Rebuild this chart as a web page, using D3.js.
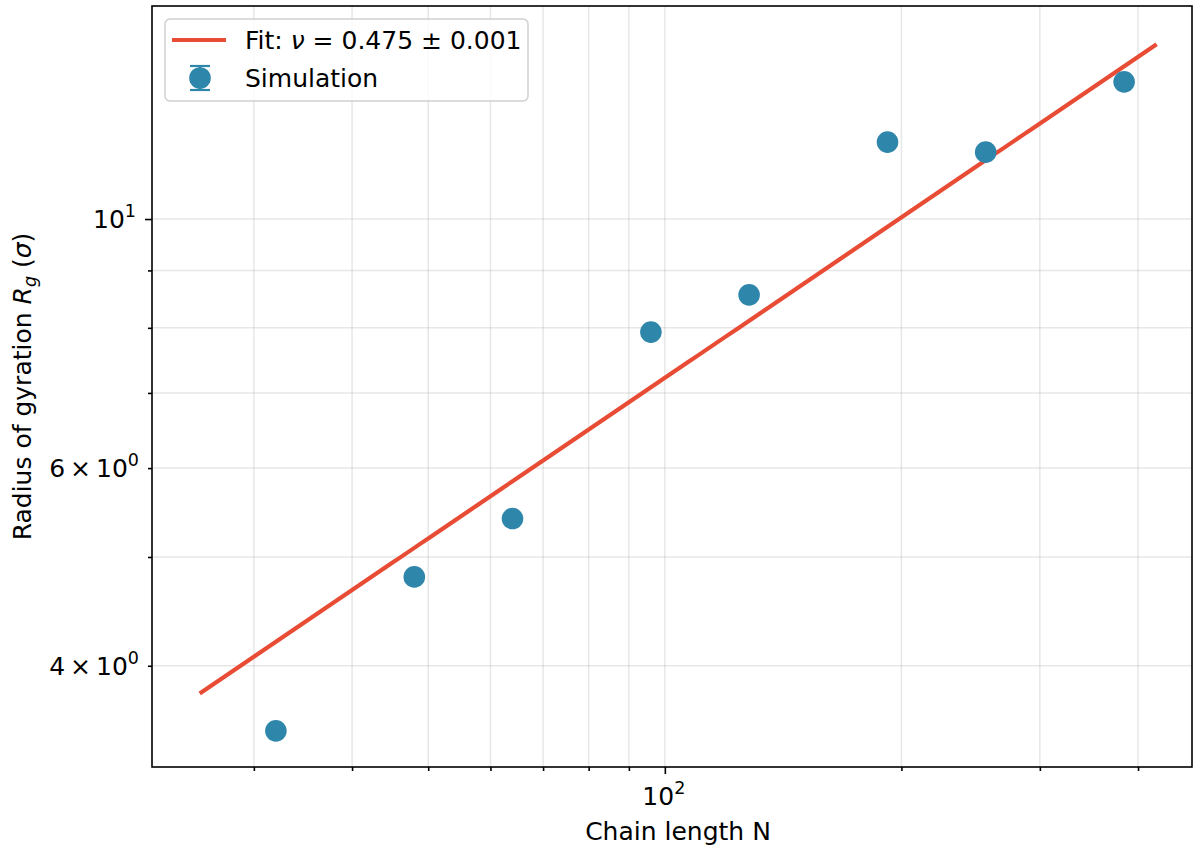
<!DOCTYPE html>
<html>
<head>
<meta charset="utf-8">
<script src="https://cdn.jsdelivr.net/npm/d3@7"></script>
<style>
  body { margin: 0; background: #fff; }
  text { font-family: "DejaVu Sans", sans-serif; fill: #000; }
</style>
</head>
<body>
<div id="chart"></div>
<script>
// data
var chainN = [32, 48, 64, 96, 128, 192, 256, 384];
var rg = [3.50, 4.80, 5.41, 7.93, 8.56, 11.71, 11.47, 13.25];
var nu = 0.475;
var prefactor = 0.81;
var dataLabel = "Simulation";
var xMinor = [30, 40, 50, 60, 70, 80, 90, 200, 300, 400];
var yMinor = [4, 5, 6, 7, 8, 9];
var yMinorLabeled = [4, 6];

var svgWidth = 1193;
var svgHeight = 845;
var margin = { top: 6, right: 1, bottom: 78, left: 152 };
var width = svgWidth - margin.left - margin.right;
var height = svgHeight - margin.top - margin.bottom;

var blue = "#2e86ab";
var red = "#e84c35";
var fs = 25;

var svg = d3.select("#chart").append("svg")
  .attr("width", svgWidth)
  .attr("height", svgHeight);

var chartGroup = svg.append("g")
  .attr("transform", `translate(${margin.left}, ${margin.top})`);

var x = d3.scaleLog().domain([22.26, 468.5]).range([0, width]);
var y = d3.scaleLog().domain([3.25, 15.48]).range([height, 0]);

// grid
var grid = chartGroup.append("g");
[100].concat(xMinor).forEach(function(v) {
  grid.append("line")
    .attr("x1", x(v)).attr("x2", x(v))
    .attr("y1", 0).attr("y2", height)
    .attr("stroke", "#b0b0b0").attr("stroke-opacity", 0.3).attr("stroke-width", 1.5);
});
[10].concat(yMinor).forEach(function(v) {
  grid.append("line")
    .attr("x1", 0).attr("x2", width)
    .attr("y1", y(v)).attr("y2", y(v))
    .attr("stroke", "#b0b0b0").attr("stroke-opacity", 0.3).attr("stroke-width", 1.5);
});

// axes
var xMajorAxis = d3.axisBottom(x).tickValues([100]).tickSize(7).tickFormat("");
var xMinorAxis = d3.axisBottom(x).tickValues(xMinor).tickSize(4).tickFormat("");
var yMajorAxis = d3.axisLeft(y).tickValues([10]).tickSize(7).tickFormat("");
var yMinorAxis = d3.axisLeft(y).tickValues(yMinor).tickSize(4).tickFormat("");

[xMajorAxis, xMinorAxis].forEach(function(ax) {
  chartGroup.append("g").attr("transform", `translate(0, ${height})`).call(ax)
    .call(g => g.select(".domain").remove())
    .selectAll("line").attr("stroke", "#000").attr("stroke-width", 1.6);
});
[yMajorAxis, yMinorAxis].forEach(function(ax) {
  chartGroup.append("g").call(ax)
    .call(g => g.select(".domain").remove())
    .selectAll("line").attr("stroke", "#000").attr("stroke-width", 1.6);
});

// tick labels with superscripts
function powLabel(g, mant, exp) {
  if (mant) {
    g.append("tspan").text(mant + "\u2009\u00d7\u200910");
  } else {
    g.append("tspan").text("10");
  }
  g.append("tspan").attr("dy", -11).attr("font-size", 17.5).text(exp);
}

var xl = chartGroup.append("text")
  .attr("x", x(100) - 1).attr("y", height + 38)
  .attr("text-anchor", "middle").attr("font-size", fs);
powLabel(xl, null, "2");

var yl = chartGroup.append("text")
  .attr("x", -16).attr("y", y(10) + 9)
  .attr("text-anchor", "end").attr("font-size", fs);
powLabel(yl, null, "1");

yMinorLabeled.forEach(function(v) {
  var t = chartGroup.append("text")
    .attr("x", -13).attr("y", y(v) + 9)
    .attr("text-anchor", "end").attr("font-size", fs);
  powLabel(t, String(v), "0");
});

// frame
chartGroup.append("rect")
  .attr("width", width).attr("height", height)
  .attr("fill", "none").attr("stroke", "#000").attr("stroke-width", 1.6);

// axis titles
chartGroup.append("text")
  .attr("x", width / 2 + 6).attr("y", height + 73)
  .attr("text-anchor", "middle").attr("font-size", fs)
  .text("Chain length N");

var ylab = svg.append("text")
  .attr("transform", `translate(31, ${margin.top + height / 2}) rotate(-90)`)
  .attr("text-anchor", "middle").attr("font-size", fs);
ylab.append("tspan").text("Radius of gyration ");
ylab.append("tspan").attr("font-style", "italic").text("R");
ylab.append("tspan").attr("font-style", "italic").attr("font-size", 17.5).attr("dy", 5).text("g");
ylab.append("tspan").attr("dy", -5).text(" (");
ylab.append("tspan").attr("font-style", "italic").text("\u03c3");
ylab.append("tspan").text(")");

// fit line
var nLo = d3.min(chainN) * 0.8, nHi = d3.max(chainN) * 1.1;
var fitN = d3.range(0, 101).map(i => nLo * Math.pow(nHi / nLo, i / 100));
var line = d3.line()
  .x(d => x(d))
  .y(d => y(prefactor * Math.pow(d, nu)));
chartGroup.append("path")
  .datum(fitN)
  .attr("d", line)
  .attr("fill", "none")
  .attr("stroke", red)
  .attr("stroke-width", 4.2);

// points
chartGroup.selectAll(".pt")
  .data(chainN)
  .enter()
  .append("circle")
  .attr("class", "pt")
  .attr("cx", d => x(d))
  .attr("cy", (d, i) => y(rg[i]))
  .attr("r", 10.8)
  .attr("fill", blue);

// legend
var legend = svg.append("g").attr("transform", "translate(165, 19)");
legend.append("rect")
  .attr("width", 363).attr("height", 82).attr("rx", 5)
  .attr("fill", "#fff").attr("fill-opacity", 0.8)
  .attr("stroke", "#d0d0d0").attr("stroke-width", 1.5);
legend.append("line")
  .attr("x1", 7).attr("x2", 61).attr("y1", 21).attr("y2", 21)
  .attr("stroke", red).attr("stroke-width", 4.2);
var fitText = legend.append("text")
  .attr("x", 80).attr("y", 30).attr("font-size", fs);
fitText.append("tspan").text("Fit: ");
fitText.append("tspan").attr("font-style", "italic").text("\u03bd");
fitText.append("tspan").text(" = " + nu.toFixed(3) + " \u00b1 0.001");
var eb = legend.append("g").attr("transform", "translate(35, 59)");
eb.append("line").attr("x1", 0).attr("x2", 0).attr("y1", -12).attr("y2", 12)
  .attr("stroke", blue).attr("stroke-width", 2);
eb.append("line").attr("x1", -10).attr("x2", 10).attr("y1", -12).attr("y2", -12)
  .attr("stroke", blue).attr("stroke-width", 2.2);
eb.append("line").attr("x1", -10).attr("x2", 10).attr("y1", 12).attr("y2", 12)
  .attr("stroke", blue).attr("stroke-width", 2.2);
eb.append("circle").attr("r", 10.8).attr("fill", blue);
legend.append("text")
  .attr("x", 80).attr("y", 68).attr("font-size", fs)
  .text(dataLabel);
</script>
</body>
</html>
